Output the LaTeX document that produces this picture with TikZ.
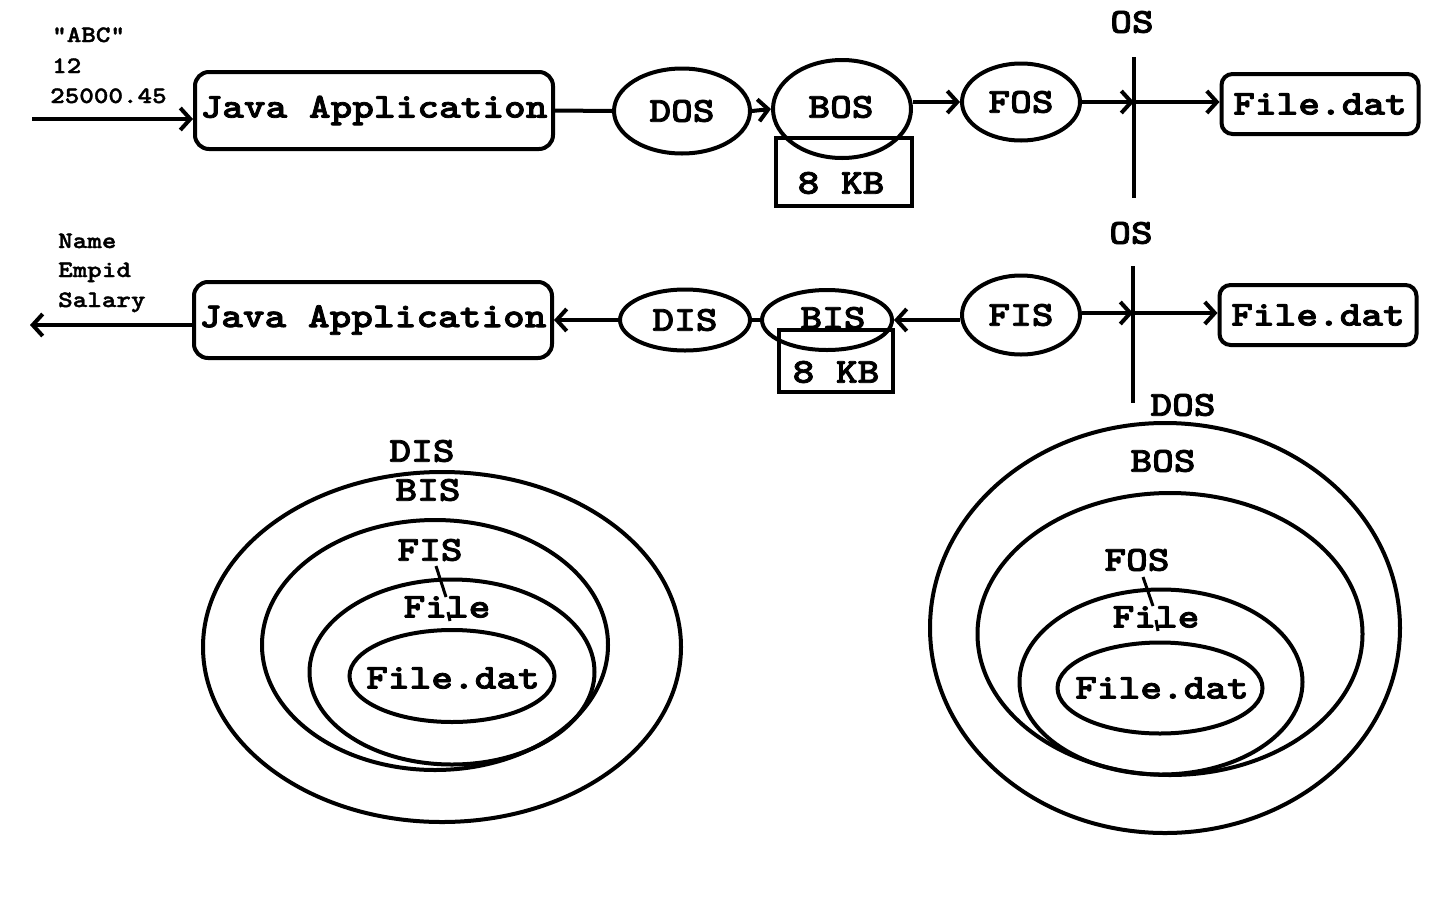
\documentclass[tikz,border=0pt]{standalone}
\usepackage{fontspec}
\newfontfamily\cf{lmmonolt10-bold.otf}[FakeStretch=1.18,FakeBold=2.2]
\newfontfamily\cs{lmmonolt10-bold.otf}[FakeStretch=1.18,FakeBold=1.6]
\usetikzlibrary{shapes.geometric,arrows.meta}
\tikzset{
  lw/.style={line width=4pt},
  big/.style={font=\cf\fontsize{35}{40}\selectfont},
  lbl/.style={big, inner sep=0pt},
  small/.style={font=\cs\fontsize{23.5}{28}\selectfont, inner sep=0pt, anchor=base west},
  appbox/.style={draw, lw, rounded corners=14pt, minimum width=358pt, minimum height=77pt, big, inner sep=0pt},
  filebox/.style={draw, lw, rounded corners=11pt, minimum width=197pt, minimum height=60pt, big, inner sep=0pt},
  kbbox/.style={draw, lw, rectangle, inner sep=0pt},
  oval/.style={draw, lw, ellipse, inner sep=0pt, big},
  ring/.style={draw, lw, ellipse, inner sep=0pt},
  arr/.style={lw, -{Straight Barb[length=10pt,width=22pt,line width=4pt]}},
  plain/.style={lw},
  tick/.style={line width=3pt},
}
\begin{document}
\begin{tikzpicture}[x=1pt,y=-1pt]
\useasboundingbox (0,0) rectangle (1440,900);
\fill[white] (0,0) rectangle (1440,900);

% ---------- Row 1 ----------
\node[small] (t1) at (52,42) {“ABC”};
\node[small] (t2) at (52,73) {12};
\node[small] (t3) at (50,103) {25000.45};
\coordinate (in1) at (32,119);

\node[appbox] (app1) at (374,110.5) {Java Application};
\node[oval, minimum width=136pt, minimum height=85pt] (dos) at (682,111) {DOS};
\node[kbbox, minimum width=136pt, minimum height=68pt] (kb1) at (844,172) {};
\node[lbl] (kb1t) at (841,183) {8 KB};
\node[oval, minimum width=138pt, minimum height=98pt] (bos) at (842,109) {};
\node[lbl] (bost) at (841,107) {BOS};
\node[oval, minimum width=118pt, minimum height=77pt] (fos) at (1021,102) {FOS};
\coordinate (os1top) at (1134,57);
\coordinate (os1bot) at (1134,198);
\coordinate (m1) at (1134,102);
\node[lbl] (os1) at (1132,22) {OS};
\node[filebox] (file1) at (1320,104) {File.dat};

\draw[arr] (in1) -- (in1 -| app1.west);
\draw[plain] (app1.east) -- (dos.west);
\draw[arr] (dos.east) -- (bos.west);
\draw[arr] (bos.east |- fos.west) -- (fos.west);
\draw[plain] (os1top) -- (os1bot);
\draw[arr] (fos.east |- m1) -- (m1);
\draw[arr] (m1) -- (m1 -| file1.west);

% ---------- Row 2 ----------
\node[small] (n1) at (58,248) {Name};
\node[small] (n2) at (58,277) {Empid};
\node[small] (n3) at (58,307) {Salary};
\coordinate (out2) at (30,325);

\node[appbox, minimum height=76pt] (app2) at (373,320) {Java Application};
\node[oval, minimum width=130pt, minimum height=61pt] (dis) at (685,320) {DIS};
\node[kbbox, minimum width=114pt, minimum height=62pt] (kb2) at (836,361) {};
\node[lbl] (kb2t) at (836,372) {8 KB};
\node[oval, minimum width=130pt, minimum height=60pt] (bis) at (827,320) {};
\node[lbl] (bist) at (833,318) {BIS};
\node[oval, minimum width=118pt, minimum height=79pt] (fis) at (1021,315) {FIS};
\coordinate (os2top) at (1133,266);
\coordinate (os2bot) at (1133,403);
\coordinate (m2) at (1133,313);
\node[lbl] (os2) at (1131,233) {OS};
\node[filebox] (file2) at (1318,315) {File.dat};

\draw[arr] (out2 -| app2.west) -- (out2);
\draw[arr] (dis.west) -- (app2.east);
\draw[plain] (dis.east) -- (bis.west);
\draw[arr] (fis.west |- bis.east) -- (bis.east);
\draw[plain] (os2top) -- (os2bot);
\draw[arr] (fis.east |- m2) -- (m2);
\draw[arr] (m2) -- (m2 -| file2.west);

% ---------- Bottom left ----------
\node[ring, minimum width=478pt, minimum height=350pt] (l1) at (442,647) {};
\node[ring, minimum width=346pt, minimum height=250pt] (l2) at (435,645) {};
\node[ring, minimum width=285pt, minimum height=185pt] (l3) at (452,672) {};
\node[ring, minimum width=205pt, minimum height=92pt] (l4) at (452,676) {};
\node[lbl] (ldis) at (422,451) {DIS};
\node[lbl] (lbis) at (428,490) {BIS};
\node[lbl] (lfis) at (430,550) {FIS};
\node[lbl] (lfile) at (447,607) {File};
\node[lbl] (lfdat) at (453,678) {File.dat};
\coordinate (la) at (436,566);
\coordinate (lb) at (446,597);
\coordinate (lc) at (448,612);
\coordinate (ld) at (450,621);
\draw[tick] (la) -- (lb);
\draw[tick] (lc) -- (ld);

% ---------- Bottom right ----------
\node[lbl] (rdos) at (1183,405) {DOS};
\node[ring, minimum width=470pt, minimum height=410pt] (r1) at (1165,628) {};
\node[ring, minimum width=385pt, minimum height=282pt] (r2) at (1170,634) {};
\node[ring, minimum width=283pt, minimum height=185pt] (r3) at (1161,682) {};
\node[ring, minimum width=205pt, minimum height=91pt] (r4) at (1160,688) {};
\node[lbl] (rbos) at (1163,461) {BOS};
\node[lbl] (rfos) at (1137,560) {FOS};
\node[lbl] (rfile) at (1156,617) {File};
\node[lbl] (rfdat) at (1162,688) {File.dat};
\coordinate (ra) at (1143,577);
\coordinate (rb) at (1153,606);
\coordinate (rc) at (1156,620);
\coordinate (rd) at (1158,631);
\draw[tick] (ra) -- (rb);
\draw[tick] (rc) -- (rd);
\end{tikzpicture}
\end{document}
